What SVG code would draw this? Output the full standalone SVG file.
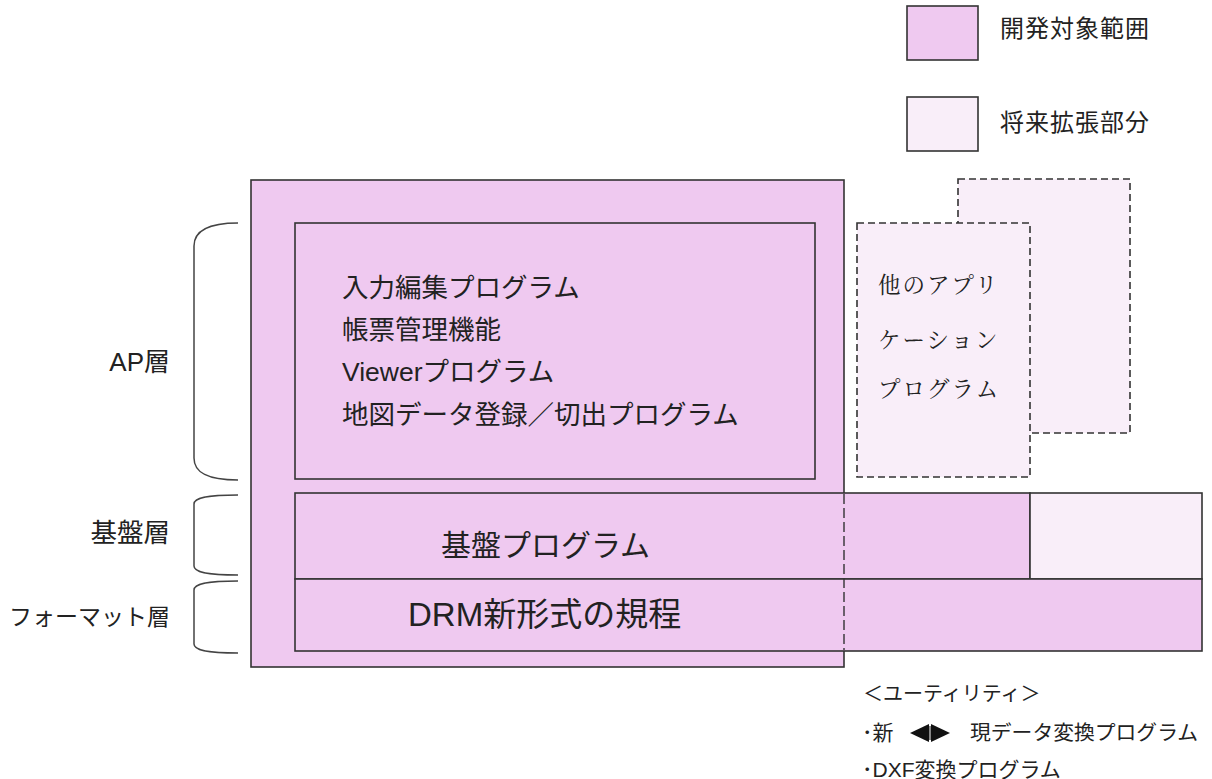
<svg xmlns="http://www.w3.org/2000/svg" width="1212" height="779" viewBox="0 0 1212 779">
<style>
.dev{fill:#efc9f0;stroke:#333;stroke-width:1.6}
.fut{fill:#f9eef9;stroke:#333;stroke-width:1.6}
.dash{fill:#f9eef9;stroke:#333;stroke-width:1.6;stroke-dasharray:7,4}
.t{font-family:"Liberation Sans","Noto Sans CJK JP",sans-serif;fill:#222}
.m{font-family:"Noto Serif CJK JP","Liberation Serif","Noto Sans CJK JP",serif;fill:#222;letter-spacing:2px}
.br{fill:none;stroke:#444;stroke-width:1.5}
</style>
<rect width="1212" height="779" fill="#fff"/>
<g id="legend">
<rect class="dev" x="907" y="6" width="71" height="54"/>
<text class="t" x="1000" y="37" font-size="24" letter-spacing="1">開発対象範囲</text>
<rect class="fut" x="907" y="97" width="71" height="54"/>
<text class="t" x="1000" y="131" font-size="24" letter-spacing="1">将来拡張部分</text>
</g>
<g id="scope">
<rect class="dev" x="251" y="180" width="593" height="487"/>
</g>
<g id="other-app-back">
<rect class="dash" x="958" y="179" width="172" height="254"/>
</g>
<g id="other-app">
<rect class="dash" x="857" y="223" width="173" height="254"/>
<text class="m" x="878" y="293" font-size="22.5">他のアプリ</text>
<text class="m" x="878" y="348" font-size="22.5">ケーション</text>
<text class="m" x="878" y="397" font-size="22.5">プログラム</text>
</g>
<g id="ap">
<rect class="dev" x="295" y="223" width="520" height="256"/>
<text class="t" x="342" y="297" font-size="26.5">入力編集プログラム</text>
<text class="t" x="342" y="339" font-size="26.5">帳票管理機能</text>
<text class="t" x="342" y="381" font-size="26.5">Viewerプログラム</text>
<text class="t" x="342" y="424" font-size="26.5">地図データ登録／切出プログラム</text>
</g>
<g id="base">
<rect class="dev" x="295" y="493" width="735" height="86"/>
<rect class="fut" x="1030" y="493" width="172" height="86"/>
<text class="t" x="441" y="556" font-size="30">基盤プログラム</text>
</g>
<g id="format">
<rect class="dev" x="295" y="579" width="907" height="72"/>
<text class="t" x="408" y="626" font-size="33">DRM新形式の規程</text>
</g>
<g id="connectors">
<line x1="844" y1="494" x2="844" y2="650" stroke="#333" stroke-width="1.4" stroke-dasharray="10,4"/>
<path class="br" d="M238,223 C206,223 194,232 194,246 L194,458 C194,472 206,480 238,480"/>
<path class="br" d="M238,495 C206,495 194,498 194,504 L194,566 C194,572 206,575 238,575"/>
<path class="br" d="M238,581 C206,581 194,584 194,590 L194,644 C194,650 206,653 238,653"/>
</g>
<g id="layers">
<text class="t" x="170" y="371" font-size="26" text-anchor="end">AP層</text>
<text class="t" x="170" y="542" font-size="26.5" text-anchor="end">基盤層</text>
<text class="t" x="170" y="625" font-size="23" text-anchor="end">フォーマット層</text>
</g>
<g id="utility">
<text class="t" x="863" y="701" font-size="20">＜ユーティリティ＞</text>
<text class="t" x="862" y="740" font-size="21">･新</text>
<polygon points="910,733 929,724 929,742" fill="#111"/>
<polygon points="950,733 931,724 931,742" fill="#111"/>
<line x1="930" y1="726" x2="930" y2="740" stroke="#111" stroke-width="1"/>
<text class="t" x="970" y="740" font-size="20.8">現データ変換プログラム</text>
<text class="t" x="862" y="777" font-size="21">･DXF変換プログラム</text>
</g>
</svg>
